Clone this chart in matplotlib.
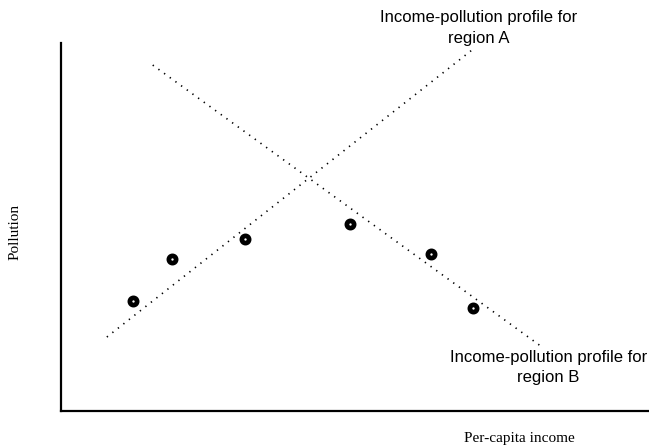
import matplotlib.pyplot as plt

# observed points (income, pollution), arbitrary units 0-10
income = [1.22, 1.89, 3.13, 4.91, 6.29, 7.01]
pollution = [2.99, 4.13, 4.67, 5.08, 4.27, 2.80]

# profile lines, endpoints
line_a_x = [0.78, 6.99]
line_a_y = [2.01, 9.81]
line_b_x = [1.56, 8.18]
line_b_y = [9.40, 1.74]

label_a = "Income-pollution profile for\nregion A"
label_b = "Income-pollution profile for\nregion B"

fig = plt.figure(figsize=(6.49, 4.48), dpi=100)
ax = fig.add_axes([61/649, 37/448, 588/649, 368/448])
ax.set_xlim(0, 10)
ax.set_ylim(0, 10)

dots = (0, (0.8, 3.4))
ax.plot(line_a_x, line_a_y, color="black", lw=1.2, linestyle=dots)
ax.plot(line_b_x, line_b_y, color="black", lw=1.2, linestyle=dots)
ax.plot(income, pollution, "o", ms=5.2, mfc="white", mec="black", mew=3.4, zorder=3)

ax.text(7.10, 10.41, label_a, ha="center", va="center", fontsize=12,
        family="Liberation Sans", linespacing=1.45, clip_on=False)
ax.text(8.29, 1.18, label_b, ha="center", va="center", fontsize=12,
        family="Liberation Sans", linespacing=1.45, clip_on=False)

for s in ["top", "right"]:
    ax.spines[s].set_visible(False)
for s in ["left", "bottom"]:
    ax.spines[s].set_linewidth(1.6)
ax.set_xticks([])
ax.set_yticks([])

fig.text(519/649, 1 - 438/448, "Per-capita income", ha="center", va="center",
         fontsize=11, family="Liberation Serif")
fig.text(15/649, 1 - 232/448, "Pollution", ha="center", va="center", rotation=90,
         fontsize=11, family="Liberation Serif")

fig.savefig("out.png", dpi=100)
